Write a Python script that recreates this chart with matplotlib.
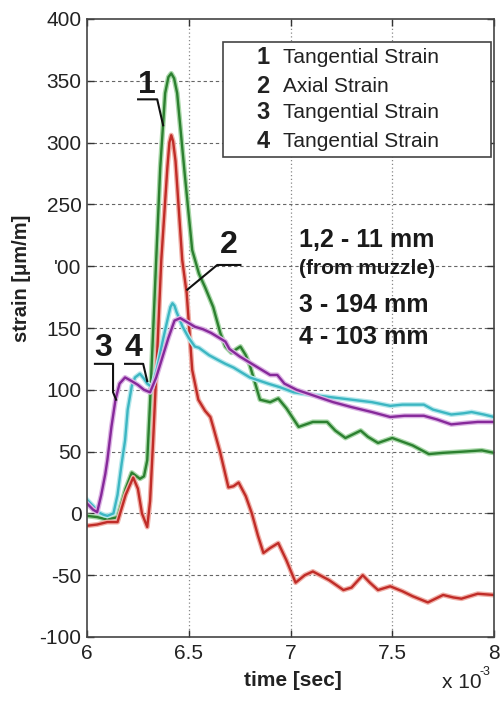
import matplotlib
matplotlib.use("Agg")
import matplotlib.pyplot as plt
from matplotlib.patches import Rectangle
import matplotlib.patheffects as pe

plt.rcParams['font.family'] = ['Liberation Sans', 'DejaVu Sans']

# time in units of 1e-3 s, strain in um/m
t_green = [6.00, 6.05, 6.10, 6.15, 6.19, 6.22, 6.26, 6.28, 6.296, 6.31, 6.34, 6.36, 6.384,
           6.40, 6.414, 6.428, 6.443, 6.48, 6.517, 6.55, 6.58, 6.62, 6.655, 6.68, 6.71,
           6.735, 6.754, 6.78, 6.80, 6.85, 6.90, 6.94, 6.98, 7.04, 7.11, 7.18, 7.22, 7.27,
           7.345, 7.38, 7.43, 7.50, 7.55, 7.60, 7.68, 7.75, 7.85, 7.94, 8.00]
v_green = [-2, -3, -5, -3, 20, 33, 28, 30, 43, 90, 205, 280, 340,
           353, 356, 352, 340, 275, 213, 194, 183, 167, 146, 135, 130,
           133, 135, 128, 120, 92, 90, 93, 85, 70, 74, 74, 67, 61,
           67, 62, 57, 61, 58, 55, 48, 49, 50, 51, 49]

t_red = [6.00, 6.05, 6.10, 6.15, 6.19, 6.227, 6.25, 6.27, 6.296, 6.31, 6.325, 6.345, 6.365,
         6.395, 6.405, 6.414, 6.423, 6.435, 6.468, 6.49, 6.517, 6.547, 6.58, 6.606, 6.62,
         6.655, 6.695, 6.72, 6.745, 6.78, 6.81, 6.84, 6.867, 6.90, 6.94, 6.98, 7.025, 7.07,
         7.11, 7.19, 7.26, 7.30, 7.355, 7.39, 7.43, 7.49, 7.55, 7.60, 7.675, 7.75, 7.80,
         7.84, 7.92, 8.00]
v_red = [-10, -9, -7, -7, 15, 29, 20, 0, -11, 10, 59, 130, 205,
         280, 300, 306, 301, 285, 205, 178, 116, 92, 83, 78, 70,
         49, 21, 22, 25, 14, 0, -18, -32, -28, -24, -38, -56, -50,
         -47, -54, -62, -60, -50, -56, -62, -59, -63, -67, -72, -66, -68,
         -69, -65, -66]

t_purple = [6.00, 6.03, 6.05, 6.07, 6.09, 6.10, 6.12, 6.14, 6.16, 6.187, 6.22, 6.25, 6.28,
            6.31, 6.34, 6.37, 6.40, 6.43, 6.458, 6.50, 6.53, 6.57, 6.61, 6.65, 6.68, 6.70,
            6.75, 6.80, 6.86, 6.90, 6.935, 6.97, 7.03, 7.12, 7.21, 7.30, 7.40, 7.49, 7.56,
            7.655, 7.72, 7.79, 7.85, 7.92, 8.00]
v_purple = [8, 3, 1, 15, 32, 43, 70, 92, 105, 110, 107, 104, 100,
            98, 110, 126, 142, 156, 158, 154, 151, 149, 146, 142, 139, 133,
            127, 122, 116, 112, 112, 105, 100, 95, 90, 86, 82, 78, 79,
            79, 76, 72, 73, 74, 74]

t_cyan = [6.00, 6.03, 6.054, 6.08, 6.10, 6.13, 6.15, 6.17, 6.187, 6.20, 6.22, 6.236, 6.26,
          6.28, 6.296, 6.32, 6.345, 6.37, 6.40, 6.41, 6.42, 6.43, 6.44, 6.47, 6.50, 6.53,
          6.55, 6.60, 6.645, 6.68, 6.72, 6.80, 6.89, 6.95, 7.015, 7.10, 7.20, 7.30, 7.40,
          7.49, 7.55, 7.655, 7.70, 7.79, 7.85, 7.89, 7.95, 8.00]
v_cyan = [11, 6, 1, -1, -2, 0, 15, 40, 59, 84, 103, 110, 113,
          109, 105, 102, 118, 138, 160, 167, 170, 168, 163, 151, 142, 135,
          134, 128, 124, 121, 118, 110, 105, 102, 98, 96, 94, 92, 90,
          87, 88, 88, 84, 80, 81, 82, 80, 78]

y_ticks = [-100, -50, 0, 50, 100, 150, 200, 250, 300, 350, 400]
y_labels = ['-100', '-50', '0', '50', '100', '150', "'00", '250', '300', '350', '400']
x_ticks = [6, 6.5, 7, 7.5, 8]
x_labels = ['6', '6.5', '7', '7.5', '8']

legend_nums = ['1', '2', '3', '4']
legend_names = ['Tangential Strain', 'Axial Strain', 'Tangential Strain', 'Tangential Strain']
notes = ['1,2 - 11 mm', '(from muzzle)', '3 - 194 mm', '4 - 103 mm']

fig = plt.figure(figsize=(5.01, 7.02), dpi=100)
ax = fig.add_axes([87 / 501, 65 / 702, 407 / 501, 618 / 702])

series = [
    (t_green, v_green, '#2c8030', '#a9d8a9'),
    (t_red, v_red, '#c02c28', '#f0b0a8'),
    (t_cyan, v_cyan, '#3cb6c2', '#b5e8ec'),
    (t_purple, v_purple, '#86299a', '#dcb4e4'),
]
for t, v, c, halo in series:
    ax.plot(t, v, color=c, lw=1.7, solid_joinstyle='round',
            path_effects=[pe.Stroke(linewidth=3.6, foreground=halo), pe.Normal()])

ax.set_xlim(6, 8)
ax.set_ylim(-100, 400)
ax.set_xticks(x_ticks)
ax.set_xticklabels(x_labels)
ax.set_yticks(y_ticks)
ax.set_yticklabels(y_labels)
ax.tick_params(direction='in', length=5, width=1, top=True, right=True,
               labelsize=15, colors='#333333', labelcolor='#222222')
ax.tick_params(axis='x', pad=5)
ax.tick_params(axis='y', pad=4)
for s in ax.spines.values():
    s.set_color('#444444')
    s.set_linewidth(1.2)

for y in y_ticks[1:-1]:
    ax.axhline(y, color='#666666', lw=0.8, ls=(0, (3, 2.5)), zorder=0)
for x in x_ticks[1:-1]:
    ax.axvline(x, color='#888888', lw=0.9, ls=(0, (1, 2)), zorder=0)

# legend box
ax.add_patch(Rectangle((0.334, 0.777), 0.659, 0.186, transform=ax.transAxes,
                       facecolor='white', edgecolor='#444444', lw=1.2, zorder=5))
for i, (n, name) in enumerate(zip(legend_nums, legend_names)):
    yy = [0.937, 0.890, 0.848, 0.801][i]
    ax.text(0.432, yy, n, transform=ax.transAxes, fontsize=17, fontweight='bold',
            ha='center', va='center', color='#222222', zorder=6)
    ax.text(0.482, yy, name, transform=ax.transAxes, fontsize=15,
            ha='left', va='center', color='#222222', zorder=6)

# distance notes
for txt, yy, fs in zip(notes, [0.643, 0.597, 0.537, 0.485], [18, 15, 18, 18]):
    ax.text(0.52, yy, txt, transform=ax.transAxes, fontsize=fs, fontweight='bold',
            ha='left', va='center', color='#1a1a1a')

# curve labels with leaders
lab = dict(fontsize=23, fontweight='bold', ha='center', va='center', color='#1a1a1a')
ax.text(6.296, 347, '1', **lab)
ax.plot([6.251, 6.345, 6.374], [335, 335, 314], color='#111111', lw=1.5)
ax.text(6.695, 217, '2', **lab)
ax.plot([6.754, 6.640, 6.493], [201, 201, 181], color='#111111', lw=1.5)
ax.text(6.079, 134, '3', **lab)
ax.plot([6.039, 6.128, 6.128, 6.143], [121, 121, 98, 92], color='#111111', lw=1.5)
ax.text(6.227, 134, '4', **lab)
ax.plot([6.187, 6.276, 6.296], [121, 121, 107], color='#111111', lw=1.5)

fig.text(22 / 501, 1 - 278 / 702, 'strain [\u03bcm/m]', rotation=90, fontsize=14.5,
         fontweight='bold', ha='center', va='center', color='#222222')
fig.text(293 / 501, 1 - 681 / 702, 'time [sec]', fontsize=15, fontweight='bold',
         ha='center', va='center', color='#222222')
fig.text(442 / 501, 1 - 683 / 702, 'x 10', fontsize=15, ha='left', va='center',
         color='#222222')
fig.text(479 / 501, 1 - 672 / 702, '-3', fontsize=9, ha='left', va='center',
         color='#222222')

fig.savefig('out.png', dpi=100, facecolor='white')
